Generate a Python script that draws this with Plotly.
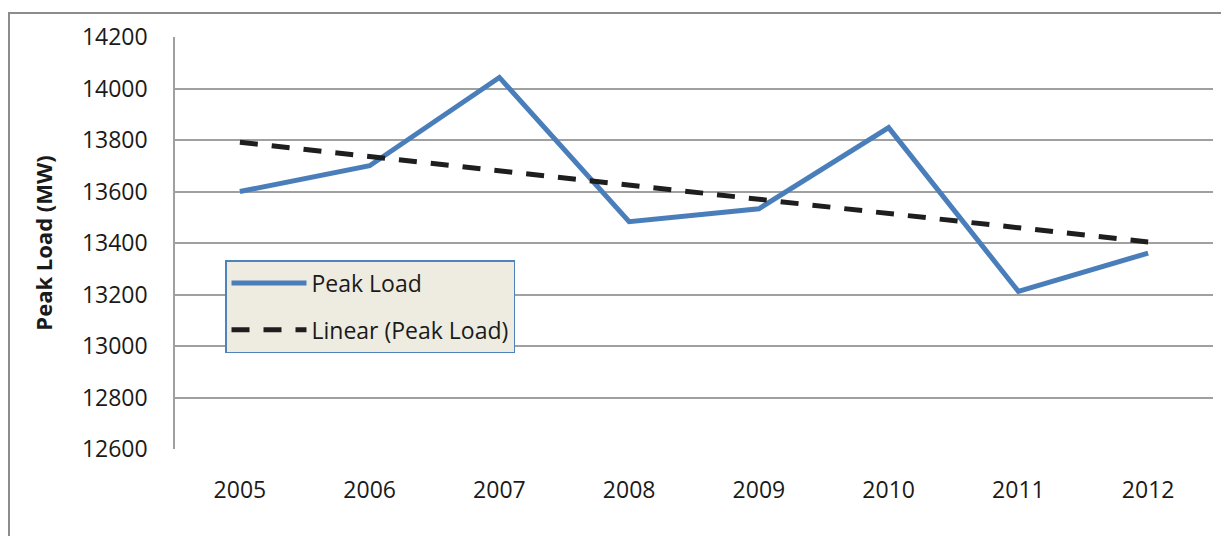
import numpy as np
import plotly.graph_objects as go

years = ["2005", "2006", "2007", "2008", "2009", "2010", "2011", "2012"]
peak_load = [13600, 13700, 14043, 13483, 13533, 13848, 13212, 13361]
y_ticks = [12600, 12800, 13000, 13200, 13400, 13600, 13800, 14000, 14200]

# excel-style linear trendline of the series
idx = np.arange(len(years))
slope, intercept = np.polyfit(idx, peak_load, 1)
trend = slope * idx + intercept

FONT = "Open Sans"
# page body has an 8px margin, so the figure is sized to fit inside it
W, H = 1213, 528
L, R, T, B = 167, 8, 29, 87

fig = go.Figure()
fig.add_trace(go.Scatter(
    x=years, y=peak_load, mode="lines", name="Peak Load",
    line=dict(color="#4A7EBB", width=5), legendgroup="a",
))
fig.add_trace(go.Scatter(
    x=years, y=trend, mode="lines", name="Linear (Peak Load)",
    line=dict(color="#1E1E1E", width=5, dash="18px,14px"), legendgroup="b",
))

pw = W - L - R
ph = H - T - B
fig.add_shape(type="rect", xref="paper", yref="paper",
              x0=(1 - L) / pw, x1=(W + 20 - L) / pw,
              y0=-(H + 20 - T - ph) / ph, y1=1 + (T - 5) / ph,
              line=dict(color="#8C8C8C", width=2), layer="below")

fig.update_xaxes(
    type="category", range=[-0.5, 7.5], showgrid=False, zeroline=False,
    showline=False, ticks="", ticklabelstandoff=25, automargin=False,
    tickfont=dict(family=FONT, size=23, color="#1A1A1A"),
)
fig.update_yaxes(
    range=[12600, 14200], tickvals=y_ticks, tickformat="d", showgrid=True,
    gridcolor="#A0A0A0", gridwidth=1.5, showline=True, linecolor="#A0A0A0",
    linewidth=1.5, zeroline=False, ticks="", ticklabelstandoff=21,
    automargin=False,
    tickfont=dict(family=FONT, size=23, color="#1A1A1A"),
    title=dict(text="<b>Peak Load (MW)</b>", standoff=23,
               font=dict(family=FONT, size=22, color="#1A1A1A")),
)

fig.update_layout(
    width=W, height=H,
    margin=dict(l=L, r=R, t=T, b=B),
    paper_bgcolor="white", plot_bgcolor="white",
    legend=dict(
        x=(217 - L) / pw, y=1 - (252 - T) / ph, xanchor="left", yanchor="top",
        bgcolor="#EEECE1", bordercolor="#4F81BD", borderwidth=1.5,
        font=dict(family=FONT, size=23, color="#1A1A1A"),
        tracegroupgap=14, itemwidth=75,
    ),
)

fig.write_html("out.html")
